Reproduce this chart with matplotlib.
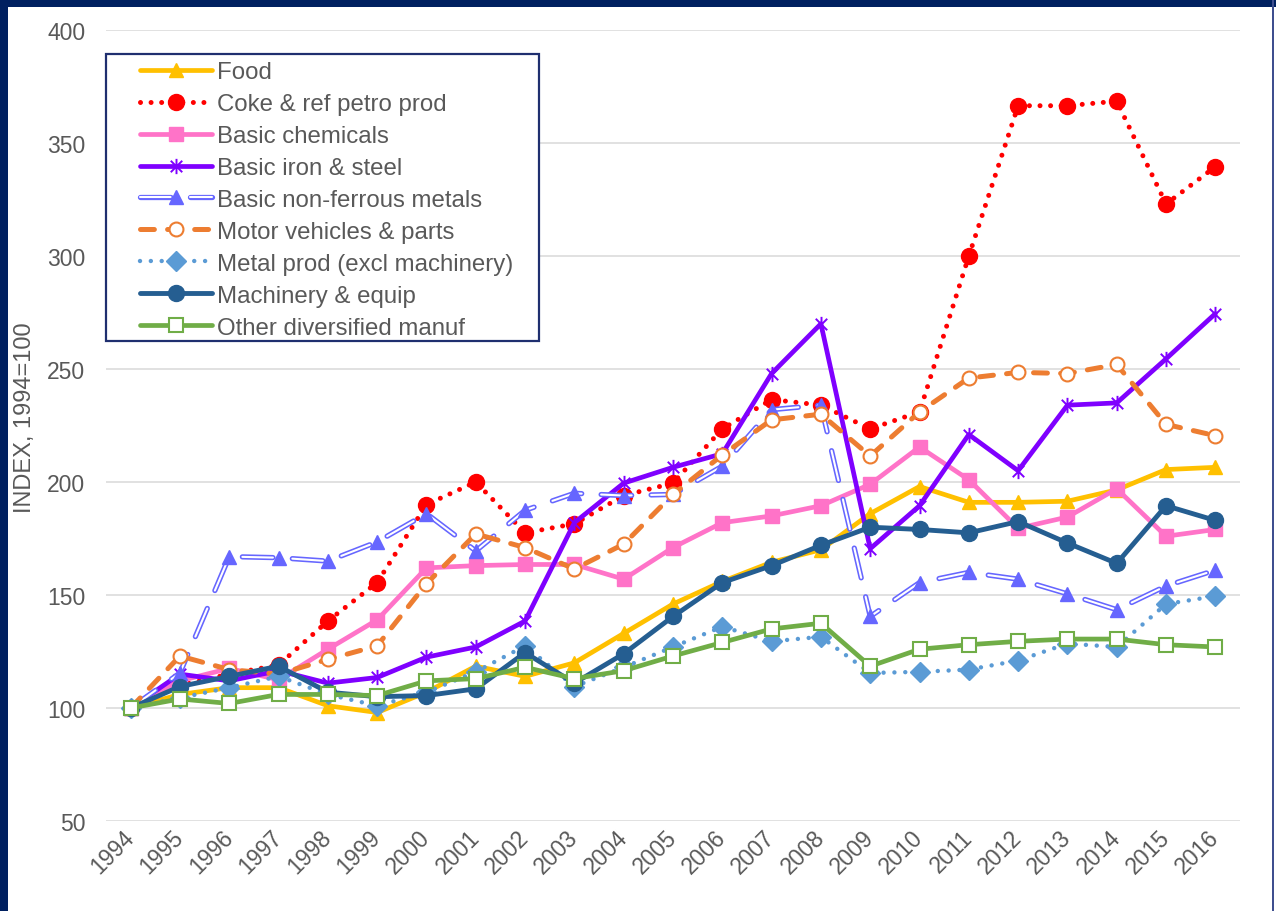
import matplotlib
matplotlib.use("Agg")
import matplotlib.pyplot as plt
from matplotlib.patches import Rectangle
from matplotlib.path import Path
from matplotlib.legend_handler import HandlerTuple

plt.rcParams["font.family"] = ["Liberation Sans", "DejaVu Sans"]
plt.rcParams["lines.scale_dashes"] = False

TEXT = "#595959"
NAVY = "#002060"
W, H = 1276, 912

years = [str(y) for y in range(1994, 2017)]

food      = [100, 106, 109, 109, 101, 98, 107, 118.5, 114, 120, 133, 146, 156, 164.5, 170,
             186, 198, 191, 191, 191.5, 196.5, 205.5, 206.5]
coke      = [100, 110, 115, 119, 138.5, 155.5, 190, 200, 177.5, 181.5, 194, 199.5, 223.5,
             236.5, 234, 223.5, 231, 300, 366.5, 366.5, 368.5, 323, 339.5]
chemicals = [100, 112, 117.5, 112.5, 126, 139, 162, 163, 163.5, 163.5, 157, 171, 182, 185,
             189.5, 199, 215.5, 201, 179.5, 184.5, 197, 176, 179]
steel     = [100, 115, 112, 116.5, 111, 113.5, 122.5, 127, 138.5, 182, 199.5, 206.5, 212.5,
             248, 270, 170.5, 189.5, 221, 205, 234, 235, 254.5, 274.5]
nonferrous = [100, 115.5, 167, 166.5, 165, 173.5, 186, 169.5, 187.5, 195, 194, 194.5, 207,
              232, 234, 140.5, 155.5, 160, 157, 150.5, 143.5, 154, 161]
motor     = [100, 123, 117, 115, 121.5, 127.5, 155, 177, 171, 161.5, 172.5, 194.5, 212,
             227.5, 230, 211.5, 231, 246, 248.5, 248, 252, 225.5, 220.5]
metal     = [100, 104.5, 109, 114, 106, 101, 107, 116, 127.5, 109.5, 118, 127, 136, 129.5,
             131.5, 115.5, 116, 117, 121, 128.5, 127, 146, 149.5]
machinery = [100, 109.5, 114, 118.5, 107, 105, 105.5, 108.5, 124.5, 111, 124, 140.5, 155.5,
             163, 172, 180, 179, 177.5, 182.5, 173, 164, 189.5, 183]
other     = [100, 104, 102, 106, 106, 105.5, 112, 113, 118, 113, 116.5, 123, 129, 135,
             137.5, 118.5, 126, 128, 129.5, 130.5, 130.5, 128, 127]

labels = ["Food", "Coke & ref petro prod", "Basic chemicals", "Basic iron & steel",
          "Basic non-ferrous metals", "Motor vehicles & parts",
          "Metal prod (excl machinery)", "Machinery & equip", "Other diversified manuf"]

x = list(range(len(years)))

# Excel-style star: an X with a vertical bar through it
star = Path([(0, -1), (0, 1), (-0.75, -0.75), (0.75, 0.75), (-0.75, 0.75), (0.75, -0.75)],
            [Path.MOVETO, Path.LINETO] * 3)

fig = plt.figure(figsize=(W / 100, H / 100), dpi=100)
ax = fig.add_axes([106 / W, 1 - 822 / H, (1240 - 106) / W, (822 - 31) / H])

handles = []
z = 3

# Food
h, = ax.plot(x, food, color="#FFC000", lw=3.4, marker="^", ms=10, zorder=z,
             solid_capstyle="round", solid_joinstyle="round")
handles.append(h); z += 1

# Coke & refined petroleum: round dots
h, = ax.plot(x, coke, color="#FF0000", lw=3.6, ls=(0, (0.01, 7.6)),
             dash_capstyle="round", marker="o", ms=11.5, zorder=z)
handles.append(h); z += 1

# Basic chemicals
h, = ax.plot(x, chemicals, color="#FF73C8", lw=3.4, marker="s", ms=10, zorder=z,
             solid_capstyle="round", solid_joinstyle="round")
handles.append(h); z += 1

# Basic iron & steel
h, = ax.plot(x, steel, color="#7F00FF", lw=3.4, marker=star, ms=11, mew=1.4,
             zorder=z, solid_capstyle="round", solid_joinstyle="round")
handles.append(h); z += 1

# Basic non-ferrous metals: hollow long dash
nf_dash = (0, (22, 14))
h1, = ax.plot(x, nonferrous, color="#6666FF", lw=3.8, ls=nf_dash,
              dash_capstyle="round", zorder=z)
h2, = ax.plot(x, nonferrous, color="white", lw=1.5, ls=nf_dash,
              dash_capstyle="round", zorder=z)
h3, = ax.plot(x, nonferrous, color="#6666FF", ls="none", marker="^", ms=10, zorder=z)
handles.append((h1, h2, h3)); z += 1

# Motor vehicles & parts
h, = ax.plot(x, motor, color="#ED7D31", lw=3.6, ls=(0, (10, 9.5)),
             dash_capstyle="round", marker="o", ms=10, mfc="white", mew=1.5, zorder=z)
handles.append(h); z += 1

# Metal products: small round dots
h, = ax.plot(x, metal, color="#5B9BD5", lw=3.2, ls=(0, (0.01, 7.8)),
             dash_capstyle="round", marker="D", ms=10, zorder=z)
handles.append(h); z += 1

# Machinery & equipment
h, = ax.plot(x, machinery, color="#255E91", lw=3.5, marker="o", ms=11.5, zorder=z,
             solid_capstyle="round", solid_joinstyle="round")
handles.append(h); z += 1

# Other diversified manufacturing
h, = ax.plot(x, other, color="#70AD47", lw=3.4, marker="s", ms=10, mfc="white",
             mew=1.5, zorder=z, solid_capstyle="round", solid_joinstyle="round")
handles.append(h); z += 1

ax.set_xlim(-0.5, len(years) - 0.5)
ax.set_ylim(50, 400)
ax.set_yticks(range(50, 401, 50))
ax.set_xticks(x)
ax.set_xticklabels(years, rotation=45, ha="right", va="center", rotation_mode="anchor")
ax.grid(axis="y", color="#D9D9D9", lw=1.1)
ax.set_axisbelow(True)
for s in ax.spines.values():
    s.set_visible(False)
ax.tick_params(axis="both", length=0, labelsize=16.5, labelcolor=TEXT)
ax.tick_params(axis="y", pad=15)
ax.tick_params(axis="x", pad=9)

fig.text(25 / W, 1 - 418 / H, "INDEX, 1994=100", rotation=90, ha="center",
         va="center", fontsize=17, color=TEXT)

# legend frame drawn separately so the inner margins match the original
frame = Rectangle((106 / W, 1 - 342 / H), (539 - 106) / W, (342 - 55) / H,
                  transform=fig.transFigure, facecolor="white",
                  edgecolor="#1F2F6F", lw=1.6, zorder=19, clip_on=False)
ax.add_patch(frame)
leg = ax.legend(handles, labels, loc="upper left",
                bbox_to_anchor=(140 / W, 1 - 62 / H),
                bbox_transform=fig.transFigure, borderaxespad=0, borderpad=0,
                fontsize=17.3, frameon=False, handlelength=3.0, handletextpad=0.2,
                labelspacing=0.415,
                handler_map={tuple: HandlerTuple(ndivide=1)})
for t in leg.get_texts():
    t.set_color(TEXT)
leg.set_zorder(20)

# slide frame
fig.add_artist(Rectangle((0, 1 - 8 / H), 1, 8 / H, transform=fig.transFigure,
                         color=NAVY, lw=0))
fig.add_artist(Rectangle((0, 0), 8 / W, 1, transform=fig.transFigure,
                         color=NAVY, lw=0))
fig.add_artist(Rectangle((1 - 4 / W, 0), 2 / W, 1, transform=fig.transFigure,
                         color="#3F4F8F", lw=0))

fig.savefig("out.png", dpi=100)
